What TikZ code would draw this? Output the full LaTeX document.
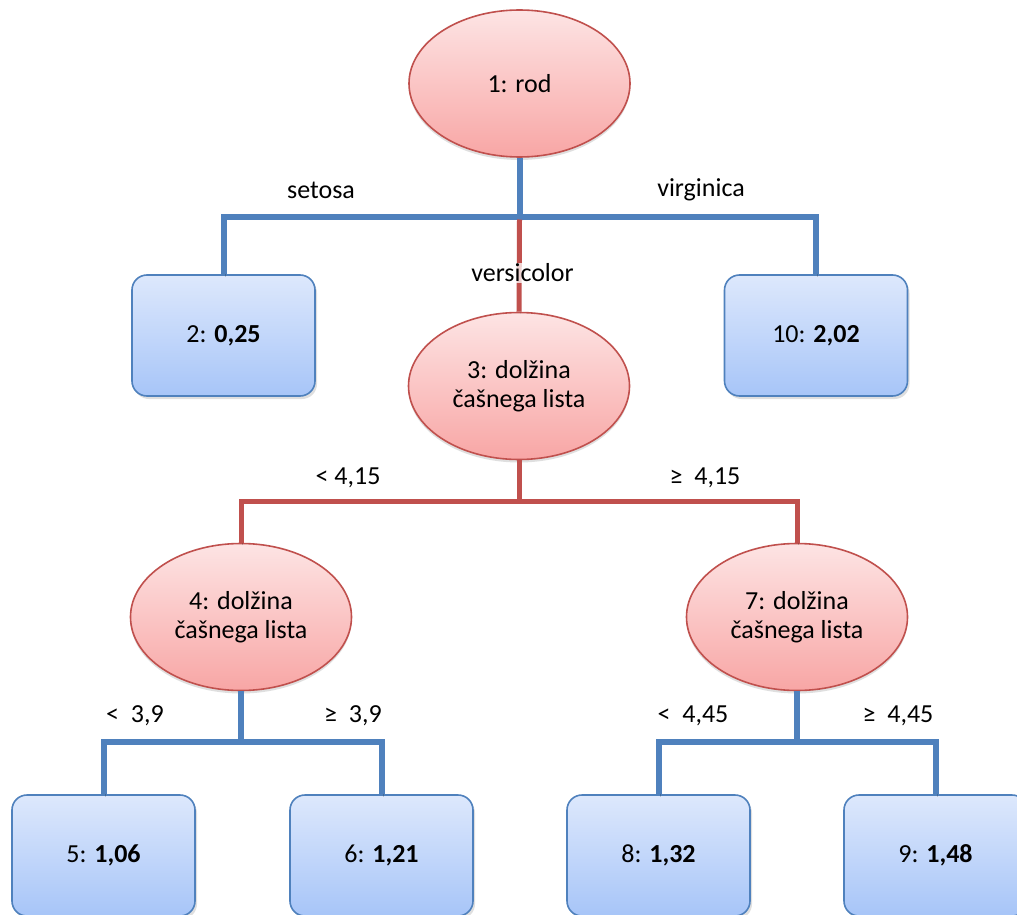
\documentclass[tikz,border=0pt]{standalone}
\usepackage{fontspec}
\setmainfont{Carlito}
\usetikzlibrary{shapes.geometric,shadows}
\definecolor{edgeblue}{HTML}{4F81BD}
\definecolor{edgered}{HTML}{C0504D}
\definecolor{boxtop}{HTML}{DDE8FC}
\definecolor{boxbot}{HTML}{A7C5F8}
\definecolor{elltop}{HTML}{FDE4E4}
\definecolor{ellbot}{HTML}{F8A6A5}
\tikzset{
  split/.style={ellipse, draw=edgered, line width=1.6pt, top color=elltop, bottom color=ellbot,
    minimum width=221pt, minimum height=147pt, inner sep=0pt, align=center,
    drop shadow={opacity=0.25, shadow xshift=0pt, shadow yshift=-3pt}},
  leaf/.style={rectangle, rounded corners=15pt, draw=edgeblue, line width=1.6pt,
    top color=boxtop, bottom color=boxbot, minimum width=183pt, minimum height=121pt,
    inner sep=0pt, drop shadow={opacity=0.25, shadow xshift=2pt, shadow yshift=-3pt}},
  shade line/.style={preaction={draw=black, opacity=0.18, transform canvas={shift={(1.5pt,-2.5pt)}}}},
  bluelink/.style={draw=edgeblue, line width=6pt, shade line},
  redlink/.style={draw=edgered, line width=5pt, shade line},
  edgelabel/.style={inner sep=1pt}
}
\begin{document}
\begin{tikzpicture}[x=1pt, y=-1pt, font=\fontsize{26}{29}\selectfont]
\clip (0,0) rectangle (1017,915);
\fill[white] (0,0) rectangle (1017,915);

% nodes of the tree
\node[split] (n1) at (519.5,83.5) {1: rod};
\node[leaf] (n2) at (223.5,335.5) {2: \textbf{0,25}};
\node[leaf] (n10) at (816,335.5) {10: \textbf{2,02}};
\node[split] (n3) at (519,386) {3: dolžina\\čašnega lista};
\node[split] (n4) at (241,617) {4: dolžina\\čašnega lista};
\node[split] (n7) at (797,617) {7: dolžina\\čašnega lista};
\node[leaf] (n5) at (103.5,855.5) {5: \textbf{1,06}};
\node[leaf] (n6) at (381.5,855.5) {6: \textbf{1,21}};
\node[leaf] (n8) at (658.5,855.5) {8: \textbf{1,32}};
\node[leaf] (n9) at (935.5,855.5) {9: \textbf{1,48}};

% branch points
\coordinate (b1) at (519.5,216.5);
\coordinate (b3) at (519,501);
\coordinate (b4) at (241,742);
\coordinate (b7) at (797,742);

% split on species
\draw[bluelink] (n1.south) -- (b1);
\draw[bluelink] (n2.north) -- (n2.north |- b1) -- (n10.north |- b1) -- (n10.north);
\draw[redlink] (b1) ++(0,3) -- (n3.north);

% split of node 3
\draw[redlink] (n3.south) -- (b3);
\draw[redlink] (n4.north) -- (n4.north |- b3) -- (n7.north |- b3) -- (n7.north);

% split of node 4
\draw[bluelink] (n4.south) -- (b4);
\draw[bluelink] (n5.north) -- (n5.north |- b4) -- (n6.north |- b4) -- (n6.north);

% split of node 7
\draw[bluelink] (n7.south) -- (b7);
\draw[bluelink] (n8.north) -- (n8.north |- b7) -- (n9.north |- b7) -- (n9.north);

% branch labels
\node[edgelabel] (lset) at (321,190) {setosa};
\node[edgelabel] (lvir) at (701,190) {virginica};
\node[edgelabel, fill=white, fill opacity=0.75, text opacity=1] (lver) at (522.5,273) {versicolor};
\node[edgelabel] (l41a) at (348,478) {<\ 4,15};
\node[edgelabel] (l41b) at (705,478) {≥\ \ 4,15};
\node[edgelabel] (l39a) at (135,716) {<\ \ 3,9};
\node[edgelabel] (l39b) at (353,716) {≥\ \ 3,9};
\node[edgelabel] (l44a) at (693,716) {<\ \ 4,45};
\node[edgelabel] (l44b) at (898,716) {≥\ \ 4,45};
\end{tikzpicture}
\end{document}
